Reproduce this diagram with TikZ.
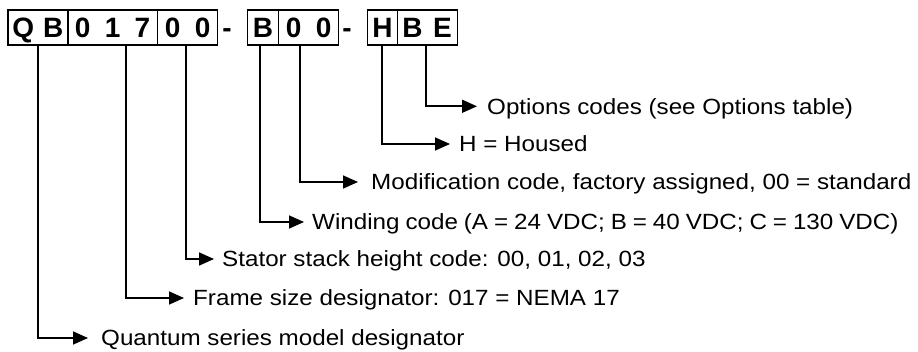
\documentclass[tikz,border=0pt]{standalone}
\usepackage{fontspec}
\setmainfont{Liberation Sans}
\newfontfamily\lblfont[FakeStretch=1.1]{Liberation Sans}
\usetikzlibrary{arrows.meta}
\begin{document}
\begin{tikzpicture}[x=1pt,y=-1pt,
  box/.style={draw, line width=1.7pt, minimum height=35pt, inner sep=0pt, anchor=north west,
    text height=20.5pt, text depth=0pt, font=\fontsize{28}{28}\bfseries\selectfont},
  dashmark/.style={inner sep=0pt, text height=20.5pt, text depth=0pt, font=\fontsize{28}{28}\bfseries\selectfont},
  lbl/.style={anchor=west, inner xsep=9pt, inner ysep=0pt, text height=15.7pt, text depth=0pt,
    font=\lblfont\fontsize{22}{22}\selectfont},
  arr/.style={line width=1.7pt, -{Triangle[length=15pt,width=13pt]}}]
\useasboundingbox (0,0) rectangle (918,352);
\newcommand\cell[1]{\makebox[30pt]{#1}}
% code boxes
\node[box, minimum width=59.4pt] (qb)   at (7.3,9.3)   {\cell{Q}\cell{B}};
\node[box, minimum width=90pt]   (b017) at (66.7,9.3)  {\cell{0}\cell{1}\cell{7}};
\node[box, minimum width=60pt]   (b00a) at (156.7,9.3) {\cell{0}\cell{0}};
\node[dashmark] (d1) at (227,26.8) {-};
\node[box, minimum width=31pt]   (bB)   at (246.7,9.3) {\cell{B}};
\node[box, minimum width=59.6pt] (b00b) at (277.7,9.3) {\cell{0}\cell{0}};
\node[dashmark] (d2) at (347,26.8) {-};
\node[box, minimum width=30pt]   (bH)   at (366.7,9.3) {\cell{H}};
\node[box, minimum width=60pt]   (bBE)  at (396.7,9.3) {\cell{B}\cell{E}};
% start points of the leader lines
\coordinate (c1) at ([xshift=31pt]qb.south west);
\coordinate (c2) at ([xshift=59.3pt]b017.south west);
\coordinate (c3) at ([xshift=29.3pt]b00a.south west);
\coordinate (c4) at ([xshift=13.3pt]bB.south west);
\coordinate (c5) at ([xshift=22.3pt]b00b.south west);
\coordinate (c6) at ([xshift=15.6pt]bH.south west);
\coordinate (c7) at ([xshift=29pt]bBE.south west);
% labels
\node[lbl, inner xsep=10pt] (t7) at (477,106.3) {Options codes (see Options table)};
\node[lbl] (t6) at (450,144)   {H = Housed};
\node[lbl, inner xsep=13pt] (t5) at (358,182)   {Modification code, factory assigned, 00 = standard};
\node[lbl, inner xsep=8pt] (t4) at (304,222)   {\spaceskip=0.27em Winding code (A = 24 VDC; B = 40 VDC; C = 130 VDC)};
\node[lbl, inner xsep=8pt] (t3) at (214,259)   {Stator stack height code: 00, 01, 02, 03};
\node[lbl] (t2) at (184,298)   {Frame size designator: 017 = NEMA 17};
\node[lbl, inner xsep=13pt] (t1) at (88,338)    {Quantum series model designator};
% connectors
\draw[arr] (c1) |- (t1.west);
\draw[arr] (c2) |- (t2.west);
\draw[arr] (c3) |- (t3.west);
\draw[arr] (c4) |- (t4.west);
\draw[arr] (c5) |- (t5.west);
\draw[arr] (c6) |- (t6.west);
\draw[arr] (c7) |- (t7.west);
\end{tikzpicture}
\end{document}
